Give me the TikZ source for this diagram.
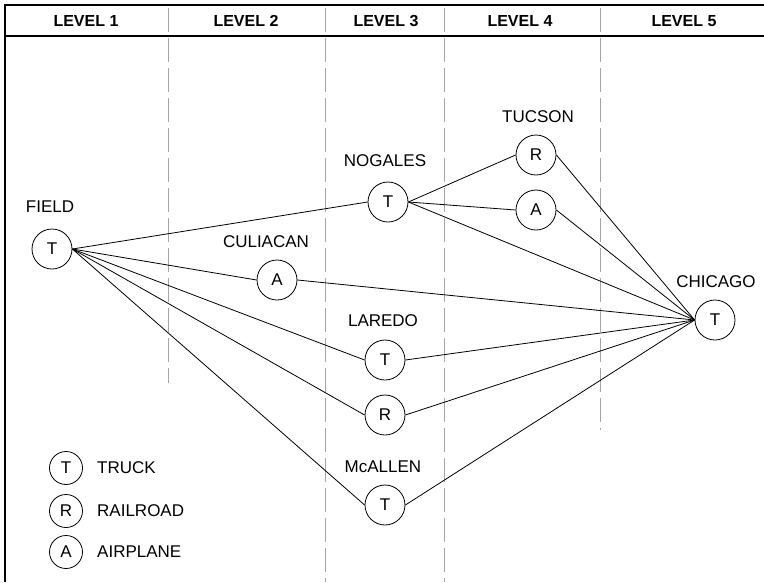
\documentclass[tikz,border=0pt]{standalone}
\usepackage{fontspec}
\setmainfont{Liberation Sans}
\begin{document}
\begin{tikzpicture}[x=1pt,y=-1pt,
  mode/.style={circle,draw,line width=0.8pt,minimum size=40pt,inner sep=0pt,font=\fontsize{17}{17}\selectfont},
  legmode/.style={mode,minimum size=33pt},
  lbl/.style={font=\fontsize{17}{17}\selectfont,inner sep=0pt},
  hdr/.style={font=\bfseries\fontsize{16}{16}\selectfont,inner sep=0pt},
  link/.style={line width=0.8pt},
  divider/.style={draw=black!35,line width=1pt,dash pattern=on 24pt off 6pt},
  frame/.style={line width=2.2pt}]
\useasboundingbox (0,0) rectangle (764,582);
% frame
\coordinate (fbl) at (5,582);
\coordinate (ftl) at (5,5);
\coordinate (ftr) at (764,5);
\coordinate (sl) at (5,36);
\coordinate (sr) at (764,36);
\draw[frame] (fbl) -- (ftl) -- (ftr);
\draw[line width=1.4pt] (sl) -- (sr);
% dividers
\coordinate (d1a) at (168,8); \coordinate (d1b) at (168,383);
\coordinate (d2a) at (325,8); \coordinate (d2b) at (325,582);
\coordinate (d3a) at (444,8); \coordinate (d3b) at (444,582);
\coordinate (d4a) at (600,8); \coordinate (d4b) at (600,430);
\draw[divider] (d1a) -- (d1b);
\draw[divider] (d2a) -- (d2b);
\draw[divider] (d3a) -- (d3b);
\draw[divider] (d4a) -- (d4b);
% headers
\node[hdr] (h1) at (86,21) {LEVEL 1};
\node[hdr] (h2) at (246,21) {LEVEL 2};
\node[hdr] (h3) at (386,21) {LEVEL 3};
\node[hdr] (h4) at (520,21) {LEVEL 4};
\node[hdr] (h5) at (684,21) {LEVEL 5};
% nodes
\node[mode] (field) at (52,249) {T};
\node[lbl] (fieldl) at (50,207) {FIELD};
\node[mode] (cul) at (277,280) {A};
\node[lbl] (cull) at (266,242) {CULIACAN};
\node[mode] (nog) at (388,202) {T};
\node[lbl] (nogl) at (385,161) {NOGALES};
\node[mode] (tucr) at (536,155) {R};
\node[lbl] (tucl) at (538,117) {TUCSON};
\node[mode] (tuca) at (536,210) {A};
\node[mode] (lar) at (385,360) {T};
\node[lbl] (larl) at (383,321) {LAREDO};
\node[mode] (larr) at (385,415) {R};
\node[mode] (mca) at (385,505) {T};
\node[lbl] (mcal) at (383,467) {McALLEN};
\node[mode] (chi) at (715,320) {T};
\node[lbl] (chil) at (716,282) {CHICAGO};
% edges
\draw[link] (field.east) -- (nog.west);
\draw[link] (field.east) -- (cul.west);
\draw[link] (field.east) -- (lar.west);
\draw[link] (field.east) -- (larr.west);
\draw[link] (field.east) -- (mca.west);
\draw[link] (nog.east) -- (tucr.west);
\draw[link] (nog.east) -- (tuca.west);
\draw[link] (nog.east) -- (chi.west);
\draw[link] (tucr.east) -- (chi.west);
\draw[link] (tuca.east) -- (chi.west);
\draw[link] (cul.east) -- (chi.west);
\draw[link] (lar.east) -- (chi.west);
\draw[link] (larr.east) -- (chi.west);
\draw[link] (mca.east) -- (chi.west);
% legend
\node[legmode] (lt) at (66,468) {T};
\node[lbl,anchor=west] (ltl) at (97,468) {TRUCK};
\node[legmode] (lr) at (66,511) {R};
\node[lbl,anchor=west] (lrl) at (97,511) {RAILROAD};
\node[legmode] (la) at (66,552) {A};
\node[lbl,anchor=west] (lal) at (97,552) {AIRPLANE};
\end{tikzpicture}
\end{document}
